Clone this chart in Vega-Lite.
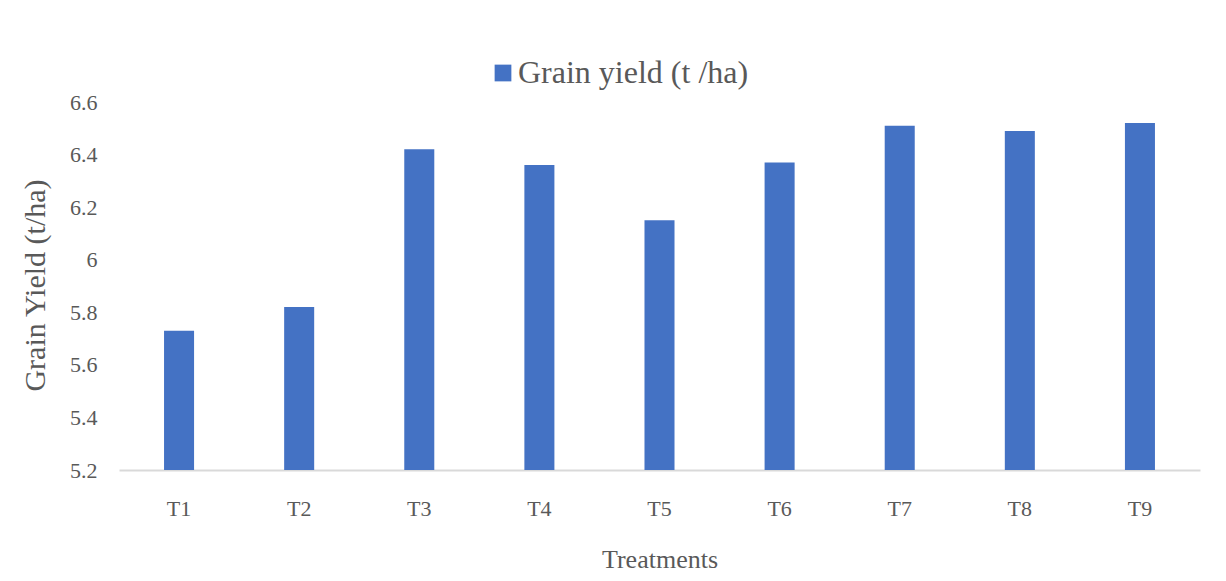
{
  "$schema": "https://vega.github.io/schema/vega-lite/v6.json",
  "width": 1081,
  "height": 368,
  "autosize": "none",
  "padding": {"left": 119, "top": 102, "right": 26, "bottom": 111},
  "background": "white",
  "data": {
    "values": [
      {"Treatment": "T1", "Yield": 5.73},
      {"Treatment": "T2", "Yield": 5.82},
      {"Treatment": "T3", "Yield": 6.42},
      {"Treatment": "T4", "Yield": 6.36},
      {"Treatment": "T5", "Yield": 6.15},
      {"Treatment": "T6", "Yield": 6.37},
      {"Treatment": "T7", "Yield": 6.51},
      {"Treatment": "T8", "Yield": 6.49},
      {"Treatment": "T9", "Yield": 6.52}
    ]
  },
  "mark": {"type": "bar"},
  "encoding": {
    "x": {
      "field": "Treatment",
      "type": "nominal",
      "sort": null,
      "scale": {"paddingInner": 0.75, "paddingOuter": 0.375},
      "axis": {
        "title": "Treatments",
        "labelAngle": 0,
        "labelFontSize": 22,
        "labelColor": "#595959",
        "labelPadding": 28,
        "labelBaseline": "top",
        "ticks": false,
        "domainColor": "#D9D9D9",
        "domainWidth": 2,
        "titleFontSize": 26,
        "titleFontWeight": "normal",
        "titleColor": "#595959",
        "titleBaseline": "alphabetic",
        "titleY": 97
      }
    },
    "y": {
      "field": "Yield",
      "type": "quantitative",
      "scale": {"domain": [5.2, 6.6], "zero": false, "nice": false},
      "axis": {
        "title": "Grain Yield (t/ha)",
        "values": [5.2, 5.4, 5.6, 5.8, 6, 6.2, 6.4, 6.6],
        "format": "~g",
        "grid": false,
        "domain": false,
        "ticks": false,
        "labelFontSize": 22,
        "labelColor": "#595959",
        "labelPadding": 22,
        "titleFontSize": 30,
        "titleFontWeight": "normal",
        "titleColor": "#595959",
        "titleAngle": -90,
        "titleBaseline": "middle",
        "titleX": -84,
        "titleY": 183
      }
    },
    "y2": {"datum": 5.2},
    "color": {
      "datum": "Grain yield (t /ha)",
      "type": "nominal",
      "scale": {"range": ["#4472C4"]},
      "legend": {
        "title": null,
        "orient": "none",
        "legendX": 368,
        "legendY": -45,
        "padding": 0,
        "symbolType": "square",
        "symbolSize": 280,
        "symbolStrokeWidth": 0,
        "labelFontSize": 32,
        "labelColor": "#595959",
        "labelOffset": -1,
        "labelLimit": 500
      }
    }
  },
  "config": {
    "font": "Liberation Serif, Times New Roman, serif",
    "view": {"stroke": null}
  }
}
